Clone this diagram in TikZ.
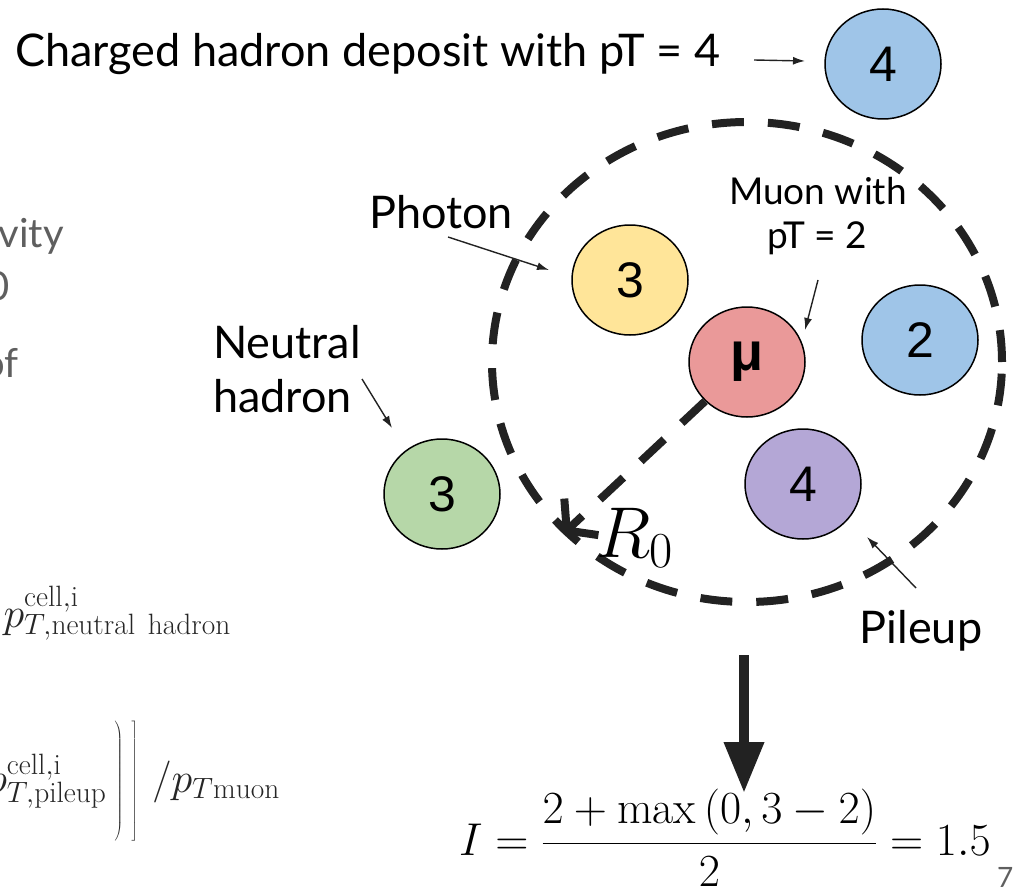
\RequirePackage{fix-cm}
\documentclass[tikz,border=0pt]{standalone}
\usepackage{fontspec}
\usetikzlibrary{shapes.geometric,arrows.meta}
\newfontfamily\latofont{Lato}
\newfontfamily\arialfont{Liberation Sans}
\definecolor{cyellow}{HTML}{FFE599}
\definecolor{cred}{HTML}{EA9999}
\definecolor{cblue}{HTML}{9FC5E8}
\definecolor{cpurple}{HTML}{B4A7D6}
\definecolor{cgreen}{HTML}{B6D7A8}
\definecolor{darkline}{HTML}{222222}
\definecolor{slidegray}{HTML}{5F5F5F}
\newcommand{\delimstrut}{\vrule height 1.68em depth 1.18em width 0pt}
\begin{document}
\begin{tikzpicture}[x=1pt,y=-1pt,
  blob/.style={ellipse, draw=black, line width=1.5pt, minimum width=116pt, minimum height=110pt, inner sep=0pt, font=\arialfont\fontsize{50pt}{50pt}\selectfont},
  lbl/.style={font=\latofont\fontsize{45pt}{52pt}\selectfont, inner sep=0pt},
  smalllbl/.style={font=\latofont\fontsize{37pt}{44pt}\selectfont, inner sep=0pt},
  graytxt/.style={font=\latofont\fontsize{40pt}{48pt}\selectfont, text=slidegray, inner sep=0pt},
  mathtxt/.style={font=\fontsize{46pt}{54pt}\selectfont, inner sep=0pt},
  sidemath/.style={font=\fontsize{42pt}{50pt}\selectfont, inner sep=0pt, text=black!85},
  thinarrow/.style={-{Latex[length=12pt,width=8pt]}, line width=1.4pt, draw=darkline},
  bigdash/.style={line width=8pt, draw=darkline, dash pattern=on 32pt off 24pt},
]
\useasboundingbox (0,0) rectangle (1017,888);

% cut-off slide fragments on the left
\node[graytxt, anchor=base east] (frag1) at (64,247) {vity};
\node[graytxt, anchor=base east] (frag2) at (10,300) {0};
\node[graytxt, anchor=base east] (frag3) at (19,377) {of};
\node[sidemath, anchor=base east] (fml1) at (231,627) {$p^{\mathrm{cell,i}}_{T,\mathrm{neutral\ hadron}}$};
\node[sidemath, anchor=base east] (fml2) at (280,792) {$\displaystyle p^{\mathrm{cell,i}}_{T,\mathrm{pileup}}\left.\delimstrut\right)\left.\delimstrut\right]\,/p_{T\mathrm{muon}}$};

% region of radius R0
\coordinate (ctr) at (747,362);
\draw[bigdash] (ctr) ellipse [x radius=255pt, y radius=240pt];

% deposits
\node[blob, fill=cblue] (top4) at (883,64) {4};
\node[blob, fill=cyellow] (photon) at (630,280) {3};
\node[blob, fill=cred, font=\arialfont\bfseries\fontsize{54pt}{54pt}\selectfont] (mu) at (ctr) {μ};
\node[blob, fill=cblue] (two) at (920,340) {2};
\node[blob, fill=cpurple] (pu) at (803,484) {4};
\node[blob, fill=cgreen] (neutral) at (442,494) {3};

% R0 radius
\coordinate (r0tip) at (563,534);
\draw[bigdash, -{Straight Barb[length=20pt,width=50pt]}] (mu) -- (r0tip);
\node[font=\fontsize{72pt}{76pt}\selectfont, inner sep=0pt, anchor=base west] (r0) at (596,557) {$R_0$};

% labels
\node[lbl, anchor=base west] (chtxt) at (15,67) {Charged hadron deposit with pT = 4};
\node[lbl, anchor=base] (phtxt) at (441,228) {Photon};
\node[lbl, anchor=base west] (nh1) at (213,358) {Neutral};
\node[lbl, anchor=base west] (nh2) at (213,412) {hadron};
\node[smalllbl, anchor=base] (mu1) at (818,204) {Muon with};
\node[smalllbl, anchor=base] (mu2) at (817,248) {pT = 2};
\node[lbl, anchor=base] (putxt) at (921,643) {Pileup};

% label arrows
\coordinate (chS) at (754,60);
\coordinate (chE) at (805,61);
\draw[thinarrow] (chS) -- (chE);
\coordinate (phS) at (448,237);
\coordinate (phE) at (549,270);
\draw[thinarrow] (phS) -- (phE);
\coordinate (nhS) at (362,379);
\coordinate (nhE) at (392,428);
\draw[thinarrow] (nhS) -- (nhE);
\coordinate (muS) at (818,280);
\coordinate (muE) at (805,330);
\draw[thinarrow] (muS) -- (muE);
\coordinate (puS) at (916,588);
\coordinate (puE) at (867,537);
\draw[thinarrow] (puS) -- (puE);

% result
\coordinate (bigS) at (744,655);
\coordinate (bigE) at (744,793);
\draw[line width=10pt, draw=darkline, -{Triangle[length=51pt,width=38pt]}] (bigS) -- (bigE);
\node[mathtxt, anchor=base west] (result) at (459,855) {$\displaystyle I=\frac{2+\max\left(0,3-2\right)}{2}=1.5$};

\node[font=\latofont\fontsize{28pt}{30pt}\selectfont, text=slidegray, inner sep=0pt, anchor=base west] (pagenum) at (997,887) {7};
\end{tikzpicture}
\end{document}
